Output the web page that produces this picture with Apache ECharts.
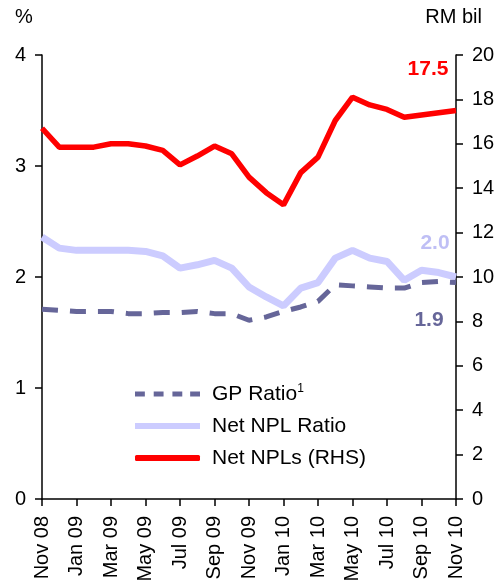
<!DOCTYPE html>
<html>
<head>
<meta charset="utf-8">
<script src="https://cdn.jsdelivr.net/npm/echarts@6/dist/echarts.min.js"></script>
<style>
  html, body { margin: 0; padding: 0; background: #fff; }
  #chart { width: 504px; height: 588px; }
</style>
</head>
<body>
<div id="chart"></div>
<script>
// Monthly observations, Nov 2008 to Nov 2010
const months = [
  'Nov 08', 'Dec 08', 'Jan 09', 'Feb 09', 'Mar 09', 'Apr 09', 'May 09', 'Jun 09',
  'Jul 09', 'Aug 09', 'Sep 09', 'Oct 09', 'Nov 09', 'Dec 09', 'Jan 10', 'Feb 10',
  'Mar 10', 'Apr 10', 'May 10', 'Jun 10', 'Jul 10', 'Aug 10', 'Sep 10', 'Oct 10', 'Nov 10'
];

// General provision ratio (%)
const gpRatio = [
  1.71, 1.70, 1.69, 1.69, 1.69, 1.67, 1.67, 1.68, 1.68, 1.69, 1.67, 1.67, 1.61,
  1.64, 1.69, 1.73, 1.78, 1.93, 1.92, 1.91, 1.90, 1.90, 1.95, 1.96, 1.95
];

// Net NPL ratio (%)
const netNplRatio = [
  2.36, 2.26, 2.24, 2.24, 2.24, 2.24, 2.23, 2.19, 2.08, 2.11, 2.15, 2.08, 1.91,
  1.82, 1.74, 1.90, 1.95, 2.17, 2.24, 2.17, 2.14, 1.97, 2.06, 2.04, 2.0
];

// Net NPLs (RM billion, right-hand scale)
const netNpls = [
  16.7, 15.85, 15.85, 15.85, 16.0, 16.0, 15.9, 15.7, 15.05, 15.45, 15.9, 15.55, 14.5,
  13.8, 13.25, 14.7, 15.4, 17.05, 18.1, 17.75, 17.55, 17.2, 17.3, 17.4, 17.5
];

const leftTicks = { min: 0, max: 4, interval: 1 };
const rightTicks = { min: 0, max: 20, interval: 2 };

const FONT = 'Liberation Sans, Arial, sans-serif';
const last = months.length - 1;

// One-decimal label, truncated as in the published figures
const oneDecimal = v => (Math.floor(v * 10 + 1e-9) / 10).toFixed(1);

function endMark(values, color, offset) {
  return {
    silent: true,
    symbol: 'circle',
    symbolSize: 0,
    data: [{
      coord: [last, values[last]],
      value: values[last],
      label: {
        show: true,
        position: 'inside',
        offset: offset,
        formatter: p => oneDecimal(p.value),
        color: color,
        fontFamily: FONT,
        fontWeight: 'bold',
        fontSize: 21
      }
    }]
  };
}

// Legend swatch for the dashed series: four short dashes
const dashIcon = 'path://M0,0h10v5h-10z M19,0h10v5h-10z M38,0h10v5h-10z M56,0h10v5h-10z';

const chart = echarts.init(document.getElementById('chart'), null, { renderer: 'canvas' });

chart.setOption({
  animation: false,
  backgroundColor: '#ffffff',
  grid: { left: 42, right: 48, top: 55, bottom: 89, containLabel: false },
  graphic: [
    { type: 'text', left: 15, top: 7, style: { text: '%', font: '20px ' + FONT, fill: '#000' } },
    { type: 'text', right: 22, top: 7, style: { text: 'RM bil', font: '20px ' + FONT, fill: '#000' } }
  ],
  legend: {
    orient: 'vertical',
    left: 135,
    top: 383,
    padding: 0,
    itemWidth: 65,
    itemHeight: 6,
    itemGap: 11,
    selectedMode: false,
    data: [
      { name: 'GP Ratio', icon: dashIcon },
      { name: 'Net NPL Ratio', icon: 'rect' },
      { name: 'Net NPLs (RHS)', icon: 'roundRect' }
    ],
    formatter: name => name === 'GP Ratio' ? 'GP Ratio{sup|1}' : name,
    textStyle: {
      fontFamily: FONT,
      fontSize: 21,
      color: '#000',
      padding: [0, 0, 0, 7],
      rich: {
        sup: { fontFamily: FONT, fontSize: 12, verticalAlign: 'top', padding: [0, 0, 10, 0], color: '#000' }
      }
    }
  },
  xAxis: {
    type: 'category',
    data: months,
    boundaryGap: false,
    axisLine: { lineStyle: { color: '#000', width: 1.5 } },
    axisTick: { show: true, interval: 1, length: 7, inside: false, lineStyle: { color: '#000', width: 1.5 } },
    axisLabel: {
      interval: 1,
      rotate: 90,
      margin: 17,
      color: '#000',
      fontFamily: FONT,
      fontSize: 20
    },
    splitLine: { show: false }
  },
  yAxis: [
    {
      type: 'value',
      position: 'left',
      min: leftTicks.min, max: leftTicks.max, interval: leftTicks.interval,
      axisLine: { show: true, lineStyle: { color: '#000', width: 1.5 } },
      axisTick: { show: true, length: 7, lineStyle: { color: '#000', width: 1.5 } },
      axisLabel: { color: '#000', fontFamily: FONT, fontSize: 20, margin: 16 },
      splitLine: { show: false }
    },
    {
      type: 'value',
      position: 'right',
      min: rightTicks.min, max: rightTicks.max, interval: rightTicks.interval,
      axisLine: { show: true, lineStyle: { color: '#000', width: 1.5 } },
      axisTick: { show: true, length: 7, lineStyle: { color: '#000', width: 1.5 } },
      axisLabel: { color: '#000', fontFamily: FONT, fontSize: 20, margin: 16 },
      splitLine: { show: false }
    }
  ],
  series: [
    {
      name: 'Net NPL Ratio',
      type: 'line',
      yAxisIndex: 0,
      data: netNplRatio,
      showSymbol: false,
      symbol: 'none',
      color: '#ccccff',
      lineStyle: { color: '#ccccff', width: 7 },
      z: 2,
      markPoint: endMark(netNplRatio, '#bfbff5', [-21, -34])
    },
    {
      name: 'GP Ratio',
      type: 'line',
      yAxisIndex: 0,
      data: gpRatio,
      showSymbol: false,
      symbol: 'none',
      color: '#666699',
      lineStyle: { color: '#666699', width: 5, type: [16, 12] },
      z: 3,
      markPoint: endMark(gpRatio, '#666699', [-27, 38])
    },
    {
      name: 'Net NPLs (RHS)',
      type: 'line',
      yAxisIndex: 1,
      data: netNpls,
      showSymbol: false,
      symbol: 'none',
      color: '#ff0000',
      lineStyle: { color: '#ff0000', width: 5.5 },
      z: 4,
      markPoint: endMark(netNpls, '#ff0000', [-28, -41])
    }
  ]
});
</script>
</body>
</html>
